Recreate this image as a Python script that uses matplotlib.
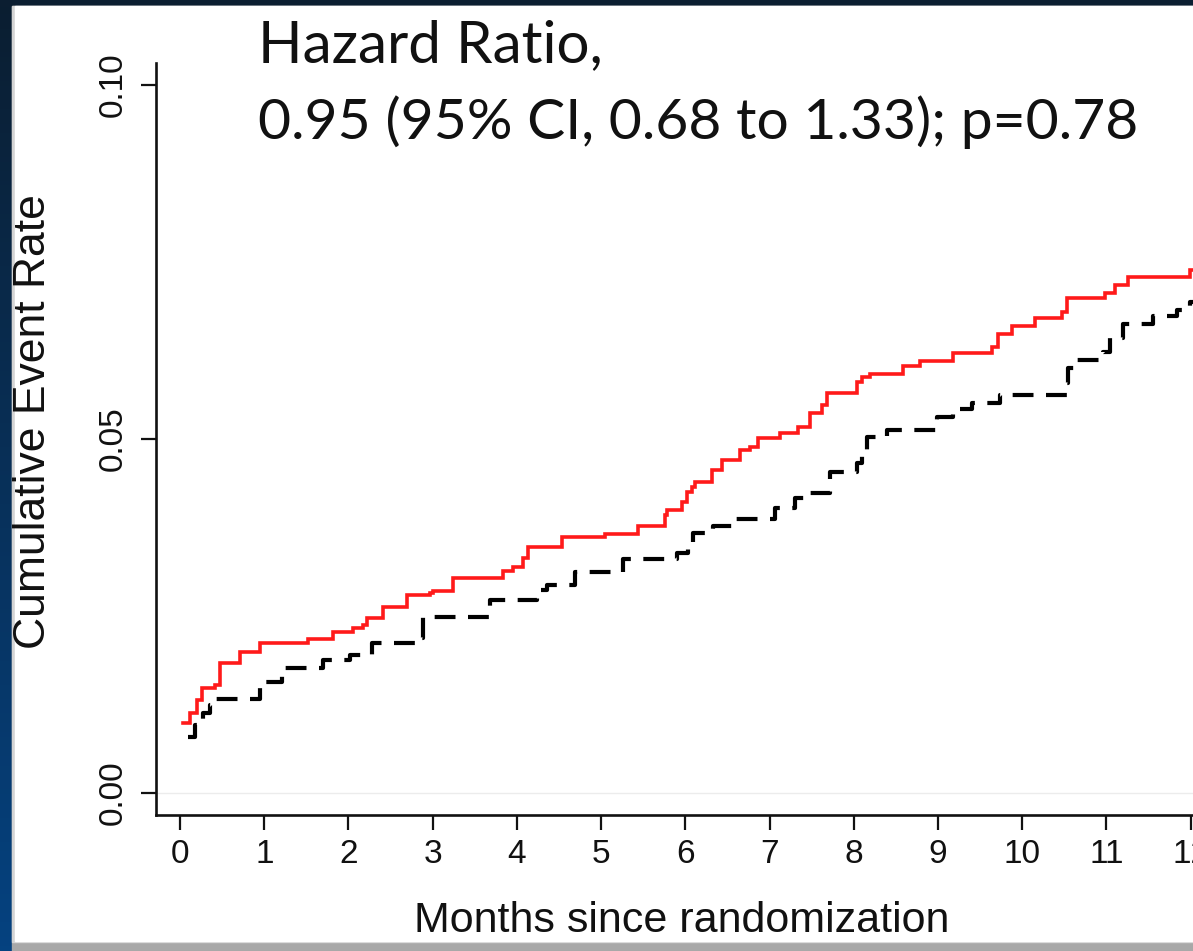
import numpy as np
import matplotlib
matplotlib.use("Agg")
import matplotlib.pyplot as plt
from matplotlib.patches import Rectangle

# Cumulative event rate, step changes (month, rate after the step)
red_months = [0.03, 0.12, 0.20, 0.26, 0.42, 0.47, 0.71, 0.95, 1.52, 1.82,
              2.05, 2.17, 2.22, 2.41, 2.70, 2.97, 3.00, 3.24, 3.84, 3.95,
              4.07, 4.13, 4.54, 5.05, 5.44, 5.76, 5.78, 5.96, 6.02, 6.08,
              6.12, 6.32, 6.44, 6.65, 6.77, 6.86, 7.12, 7.34, 7.48, 7.62,
              7.68, 8.04, 8.10, 8.19, 8.59, 8.79, 9.18, 9.64, 9.71, 9.88,
              10.15, 10.47, 10.53, 10.98, 11.10, 11.26, 11.99, 12.10]
red_rates = [0.0099, 0.0113, 0.0131, 0.0148, 0.0152, 0.0183, 0.0199, 0.0212, 0.0217, 0.0227,
             0.0233, 0.0237, 0.0247, 0.0262, 0.0279, 0.0282, 0.0285, 0.0303, 0.0313, 0.0319,
             0.0332, 0.0347, 0.0361, 0.0366, 0.0377, 0.0393, 0.0400, 0.0411, 0.0425, 0.0432,
             0.0439, 0.0456, 0.0470, 0.0484, 0.0489, 0.0501, 0.0508, 0.0517, 0.0537, 0.0548,
             0.0565, 0.0580, 0.0587, 0.0592, 0.0603, 0.0610, 0.0621, 0.0630, 0.0648, 0.0660,
             0.0671, 0.0679, 0.0699, 0.0706, 0.0717, 0.0729, 0.0739, 0.0739]

black_months = [0.10, 0.18, 0.27, 0.36, 0.42, 0.95, 1.21, 1.70, 2.02, 2.28,
                2.79, 2.89, 3.68, 4.24, 4.36, 4.69, 5.26, 5.90, 6.03, 6.09,
                6.33, 6.59, 7.07, 7.30, 7.48, 7.72, 8.04, 8.10, 8.16, 8.40,
                8.99, 9.18, 9.40, 9.74, 10.53, 10.54, 10.65, 10.96, 11.04, 11.20,
                11.55, 11.84, 11.99, 12.10]
black_rates = [0.0079, 0.0096, 0.0113, 0.0124, 0.0132, 0.0156, 0.0176, 0.0188, 0.0195, 0.0212,
               0.0219, 0.0248, 0.0272, 0.0286, 0.0294, 0.0312, 0.0330, 0.0339, 0.0350, 0.0367,
               0.0377, 0.0387, 0.0402, 0.0416, 0.0424, 0.0453, 0.0466, 0.0484, 0.0503, 0.0513,
               0.0531, 0.0542, 0.0551, 0.0562, 0.0579, 0.0600, 0.0611, 0.0623, 0.0643, 0.0662,
               0.0674, 0.0682, 0.0693, 0.0693]

x_ticks = list(range(0, 13))
y_ticks = [0.00, 0.05, 0.10]
y_tick_labels = ["0.00", "0.05", "0.10"]

title_1 = "Hazard Ratio,"
title_2 = "0.95 (95% CI, 0.68 to 1.33); p=0.78"

W, H = 1193, 951
fig = plt.figure(figsize=(W / 100, H / 100), dpi=100)
fig.patch.set_facecolor("#0b1e31")

# slide frame: dark top band, blue gradient on the left, white panel with a shadow
bg = fig.add_axes([0, 0, 1, 1])
bg.set_xlim(0, W)
bg.set_ylim(H, 0)
bg.axis("off")
top_c = np.array([0x0b, 0x1e, 0x31]) / 255
bot_c = np.array([0x05, 0x42, 0x80]) / 255
t = np.linspace(0, 1, 200)[:, None, None]
grad = top_c * (1 - t) + bot_c * t
bg.imshow(grad, extent=[0, 14, H, 0], aspect="auto", zorder=0)
bg.add_patch(Rectangle((0, 0), W, 6, color="#0b1e31", zorder=1))
bg.add_patch(Rectangle((12, 6), W - 12, H - 6, color="#a8a8a8", zorder=1))
bg.add_patch(Rectangle((12, 6), W - 12, H - 15, color="#d4d4d4", zorder=2))
bg.add_patch(Rectangle((15, 6), W - 15, H - 16, color="white", zorder=3))

ax = fig.add_axes([155.7 / W, 1 - 815 / H, 1 - 155.7 / W, (815 - 63) / H])
ax.patch.set_alpha(0)
ax.set_xlim(-0.289, 12.028)
ax.set_ylim(-0.00315, 0.1031)

ax.axhline(0, color="#ececec", lw=1.0, zorder=1)
ax.plot(red_months, red_rates, drawstyle="steps-post", color="#ff1a1a",
        lw=2.6, zorder=3, solid_joinstyle="miter")
ax.plot(black_months, black_rates, drawstyle="steps-post", color="black",
        lw=3.0, linestyle=(0, (5.0, 3.0)), zorder=3)

for side in ["top", "right"]:
    ax.spines[side].set_visible(False)
for side in ["left", "bottom"]:
    ax.spines[side].set_linewidth(1.9)
    ax.spines[side].set_color("#111111")

ax.set_xticks(x_ticks)
ax.set_xticklabels([str(v) for v in x_ticks], family="Liberation Sans",
                   fontsize=24, color="#111111")
ax.set_yticks(y_ticks)
ax.set_yticklabels(y_tick_labels, family="Liberation Sans", fontsize=24,
                   color="#111111", rotation=90, va="center")
ax.tick_params(axis="both", width=1.6, color="#111111")
ax.tick_params(axis="x", length=11, pad=6)
ax.tick_params(axis="y", length=10.5, pad=9)

fig.text(34 / W, 1 - 422 / H, "Cumulative Event Rate", rotation=90,
         ha="center", va="center", family="Liberation Sans", fontsize=32,
         color="#111111")
fig.text(682 / W, 1 - 921 / H, "Months since randomization",
         ha="center", va="center", family="Liberation Sans", fontsize=31,
         color="#111111")

fig.text(258 / W, 1 - 62 / H, title_1, ha="left", va="baseline",
         family="Lato", fontsize=42, color="#111111")
fig.text(258 / W, 1 - 139 / H, title_2, ha="left", va="baseline",
         family="Lato", fontsize=41, color="#111111")

fig.savefig("out.png", dpi=100)
